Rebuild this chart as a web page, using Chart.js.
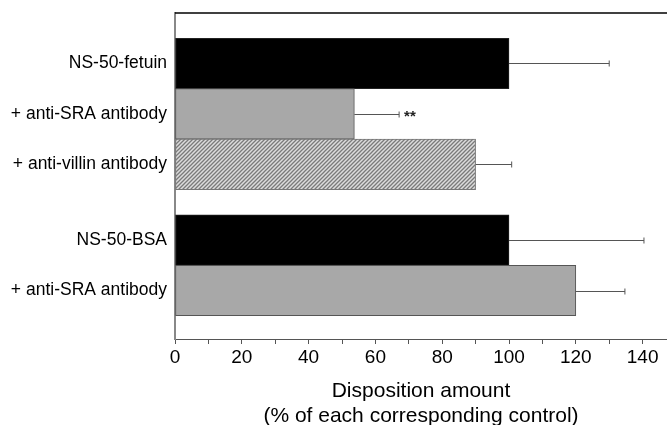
<!DOCTYPE html>
<html>
<head>
<meta charset="utf-8">
<script src="https://cdn.jsdelivr.net/npm/chart.js@4.4.1/dist/chart.umd.min.js"></script>
<style>
    html, body { margin: 0; padding: 0; background: #fff; }
    #contenedor { width: 667px; height: 425px; }
</style>
</head>
<body>
<div id="contenedor"><canvas id="grafico"></canvas></div>
<script>
// Datos del gráfico
const categorias = ['NS-50-fetuin', '+ anti-SRA antibody', '+ anti-villin antibody', 'NS-50-BSA', '+ anti-SRA antibody'];
const grupos = [0, 0, 0, 1, 1];
const valores = [100, 53.7, 90, 100, 120];
const errores = [30, 13.4, 10.8, 40.4, 14.7];
const marcas = ['', '**', '', '', ''];
const ticksX = [0, 20, 40, 60, 80, 100, 120, 140];

const FUENTE = '"Liberation Sans", Arial, sans-serif';

// Posición de cada barra en el eje: un hueco de media barra entre grupos
const posiciones = categorias.map((c, i) => i + 1 + grupos[i] * 0.5);

function patronRayado() {
    const c = document.createElement('canvas');
    c.width = 4;
    c.height = 4;
    const ctx = c.getContext('2d');
    ctx.fillStyle = '#dcdcdc';
    ctx.fillRect(0, 0, 4, 4);
    ctx.strokeStyle = '#7a7a7a';
    ctx.lineWidth = 1.3;
    ctx.beginPath();
    ctx.moveTo(0, 4); ctx.lineTo(4, 0);
    ctx.moveTo(-1, 1); ctx.lineTo(1, -1);
    ctx.moveTo(3, 5); ctx.lineTo(5, 3);
    ctx.stroke();
    return ctx.createPattern(c, 'repeat');
}

const rayado = patronRayado();
const rellenos = ['#000000', '#a8a8a8', rayado, '#000000', '#a8a8a8'];
const bordes = ['#222222', '#555555', '#777777', '#222222', '#555555'];

const barrasDeError = {
    id: 'barrasDeError',
    afterDatasetsDraw(chart) {
        const { ctx, scales: { x } } = chart;
        const meta = chart.getDatasetMeta(0);
        ctx.save();
        ctx.strokeStyle = '#555';
        ctx.lineWidth = 1;
        meta.data.forEach((barra, i) => {
            const x0 = barra.x;
            const x1 = x.getPixelForValue(valores[i] + errores[i]);
            const y = Math.round(barra.y) + 0.5;
            ctx.beginPath();
            ctx.moveTo(x0, y);
            ctx.lineTo(x1, y);
            ctx.moveTo(x1, y - 3);
            ctx.lineTo(x1, y + 3);
            ctx.stroke();
            if (marcas[i]) {
                ctx.fillStyle = '#222';
                ctx.font = 'bold 15px ' + FUENTE;
                ctx.textAlign = 'left';
                ctx.textBaseline = 'middle';
                ctx.fillText(marcas[i], x1 + 5, y + 2);
            }
        });
        ctx.restore();
    }
};

const bordeSuperior = {
    id: 'bordeSuperior',
    afterDraw(chart) {
        const { ctx, chartArea } = chart;
        ctx.save();
        ctx.strokeStyle = '#000';
        ctx.lineWidth = 1.5;
        ctx.beginPath();
        ctx.moveTo(chartArea.left, chartArea.top);
        ctx.lineTo(chartArea.right, chartArea.top);
        ctx.stroke();
        ctx.restore();
    }
};

new Chart(document.getElementById('grafico'), {
    type: 'bar',
    data: {
        datasets: [{
            data: valores.map((v, i) => ({ x: v, y: posiciones[i] })),
            backgroundColor: rellenos,
            borderColor: bordes,
            borderWidth: 1,
            borderSkipped: false,
            barPercentage: 1,
            categoryPercentage: 1
        }]
    },
    options: {
        indexAxis: 'y',
        responsive: true,
        maintainAspectRatio: false,
        animation: false,
        layout: { padding: { top: 13, right: 0, left: 0, bottom: 0 } },
        plugins: {
            legend: { display: false },
            tooltip: { enabled: false }
        },
        scales: {
            x: {
                type: 'linear',
                min: 0,
                max: 147.3,
                afterFit: scale => {
                    scale.height = 86;
                    scale.paddingRight = 0;
                },
                ticks: {
                    stepSize: 10,
                    includeBounds: false,
                    autoSkip: false,
                    maxRotation: 0,
                    padding: 2,
                    color: '#000',
                    font: { family: FUENTE, size: 19 },
                    callback: v => ticksX.includes(v) ? String(v) : ''
                },
                grid: {
                    drawOnChartArea: false,
                    drawTicks: true,
                    tickLength: 5,
                    color: '#555'
                },
                border: { display: true, color: '#555', width: 1 },
                title: {
                    display: true,
                    text: ['Disposition amount', '(% of each corresponding control)'],
                    color: '#000',
                    font: { family: FUENTE, size: 21, lineHeight: 1.17 },
                    padding: { top: 0, bottom: -3 }
                }
            },
            y: {
                type: 'linear',
                reverse: true,
                offset: false,
                min: 0,
                max: 6.46,
                afterFit: scale => {
                    scale.width = 175;
                    scale.paddingTop = 0;
                    scale.paddingBottom = 0;
                },
                afterBuildTicks: scale => {
                    scale.ticks = posiciones.map(p => ({ value: p }));
                },
                ticks: {
                    padding: 8,
                    color: '#000',
                    font: { family: FUENTE, size: 17.5 },
                    callback: (v, i) => categorias[i]
                },
                grid: { display: false, drawTicks: false },
                border: { display: true, color: '#888', width: 2 }
            }
        }
    },
    plugins: [barrasDeError, bordeSuperior]
});
</script>
</body>
</html>
